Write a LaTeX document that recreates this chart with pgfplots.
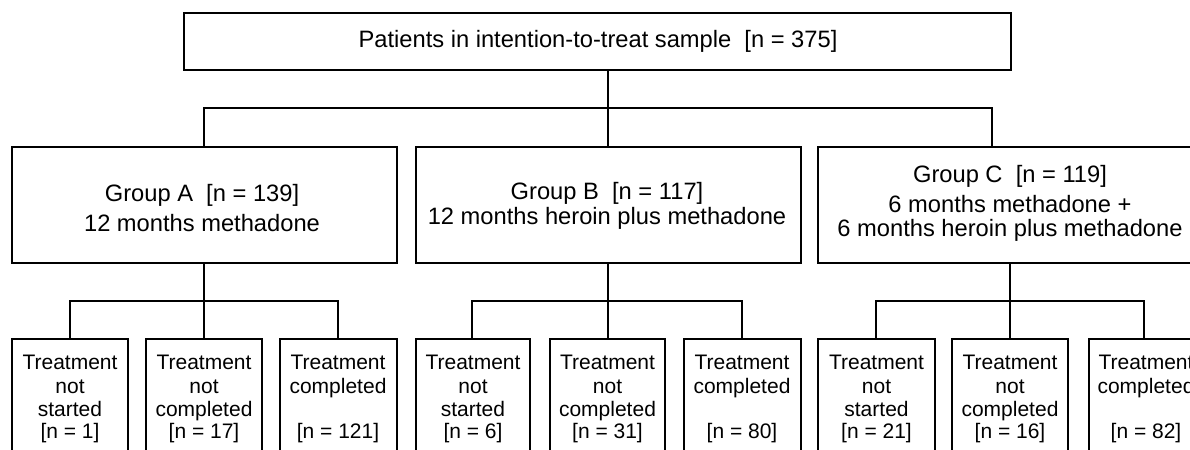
\documentclass[border=0pt]{standalone}
\usepackage{fontspec}
\setmainfont{Liberation Sans}
\usepackage{pgfplots}
\pgfplotsset{compat=1.18}
\begin{document}
\begin{tikzpicture}
\begin{axis}[
  scale only axis, width=595pt, height=225pt,
  xmin=0, xmax=1190, ymin=0, ymax=450, y dir=reverse,
  hide axis, clip=true,
  bx/.style={black, solid, line width=1pt, mark=none, line join=miter},
]
% boxes
\addplot[bx] coordinates {(183.5,12.5) (1010.5,12.5) (1010.5,70) (183.5,70)} -- cycle;
\addplot[bx] coordinates {(12,146.5) (396.5,146.5) (396.5,262.5) (12,262.5)} -- cycle;
\addplot[bx] coordinates {(416,146.5) (800.5,146.5) (800.5,262.5) (416,262.5)} -- cycle;
\addplot[bx] coordinates {(818,146.5) (1202,146.5) (1202,262.5) (818,262.5)} -- cycle;
\addplot[bx] coordinates {(12,339) (128,339) (128,470) (12,470)} -- cycle;
\addplot[bx] coordinates {(146,339) (262,339) (262,470) (146,470)} -- cycle;
\addplot[bx] coordinates {(280,339) (396.5,339) (396.5,470) (280,470)} -- cycle;
\addplot[bx] coordinates {(416,339) (530,339) (530,470) (416,470)} -- cycle;
\addplot[bx] coordinates {(550,339) (665,339) (665,470) (550,470)} -- cycle;
\addplot[bx] coordinates {(684,339) (800.5,339) (800.5,470) (684,470)} -- cycle;
\addplot[bx] coordinates {(818,339) (935,339) (935,470) (818,470)} -- cycle;
\addplot[bx] coordinates {(952,339) (1068,339) (1068,470) (952,470)} -- cycle;
\addplot[bx] coordinates {(1088.5,339) (1204,339) (1204,470) (1088.5,470)} -- cycle;
% connectors top
\addplot[bx] coordinates {(608,70) (608,146.5)};
\addplot[bx] coordinates {(204,146.5) (204,108.3) (992,108.3) (992,146.5)};
% connectors bottom
\addplot[bx] coordinates {(204,262.5) (204,339)};
\addplot[bx] coordinates {(70,339) (70,300.7) (338,300.7) (338,339)};
\addplot[bx] coordinates {(608,262.5) (608,339)};
\addplot[bx] coordinates {(472,339) (472,300.7) (742,300.7) (742,339)};
\addplot[bx] coordinates {(1010,262.5) (1010,339)};
\addplot[bx] coordinates {(876,339) (876,300.7) (1144,300.7) (1144,339)};
% texts
\tikzset{big/.style={anchor=base, inner sep=0pt, font=\fontsize{11.85}{14}\selectfont},
         sm/.style={anchor=base, inner sep=0pt, font=\fontsize{10.5}{12}\selectfont}}
\node[big] at (axis cs:598,47.3) {Patients in intention-to-treat sample\ \ [n = 375]};
\node[big] at (axis cs:202,201.7) {Group A\ \ [n = 139]};
\node[big] at (axis cs:202,231.7) {12 months methadone};
\node[big] at (axis cs:607,199.3) {Group B\ \ [n = 117]};
\node[big] at (axis cs:607,224.3) {12 months heroin plus methadone};
\node[big] at (axis cs:1010,182.7) {Group C\ \ [n = 119]};
\node[big] at (axis cs:1010,212.7) {6 months methadone +};
\node[big] at (axis cs:1010,236.7) {6 months heroin plus methadone};
% bottom texts
\node[sm] at (axis cs:70,369) {Treatment};
\node[sm] at (axis cs:70,393.3) {not};
\node[sm] at (axis cs:70,416.7) {started};
\node[sm] at (axis cs:70,438.3) {[n = 1]};
\node[sm] at (axis cs:204,369) {Treatment};
\node[sm] at (axis cs:204,393.3) {not};
\node[sm] at (axis cs:204,416.7) {completed};
\node[sm] at (axis cs:204,438.3) {[n = 17]};
\node[sm] at (axis cs:338,369) {Treatment};
\node[sm] at (axis cs:338,393.3) {completed};
\node[sm] at (axis cs:338,438.3) {[n = 121]};
\node[sm] at (axis cs:473,369) {Treatment};
\node[sm] at (axis cs:473,393.3) {not};
\node[sm] at (axis cs:473,416.7) {started};
\node[sm] at (axis cs:473,438.3) {[n = 6]};
\node[sm] at (axis cs:607.5,369) {Treatment};
\node[sm] at (axis cs:607.5,393.3) {not};
\node[sm] at (axis cs:607.5,416.7) {completed};
\node[sm] at (axis cs:607.5,438.3) {[n = 31]};
\node[sm] at (axis cs:742,369) {Treatment};
\node[sm] at (axis cs:742,393.3) {completed};
\node[sm] at (axis cs:742,438.3) {[n = 80]};
\node[sm] at (axis cs:876.5,369) {Treatment};
\node[sm] at (axis cs:876.5,393.3) {not};
\node[sm] at (axis cs:876.5,416.7) {started};
\node[sm] at (axis cs:876.5,438.3) {[n = 21]};
\node[sm] at (axis cs:1010,369) {Treatment};
\node[sm] at (axis cs:1010,393.3) {not};
\node[sm] at (axis cs:1010,416.7) {completed};
\node[sm] at (axis cs:1010,438.3) {[n = 16]};
\node[sm] at (axis cs:1146,369) {Treatment};
\node[sm] at (axis cs:1146,393.3) {completed};
\node[sm] at (axis cs:1146,438.3) {[n = 82]};
\end{axis}
\pgfresetboundingbox
\path (current axis.south west) rectangle (current axis.north east);
\end{tikzpicture}
\end{document}
